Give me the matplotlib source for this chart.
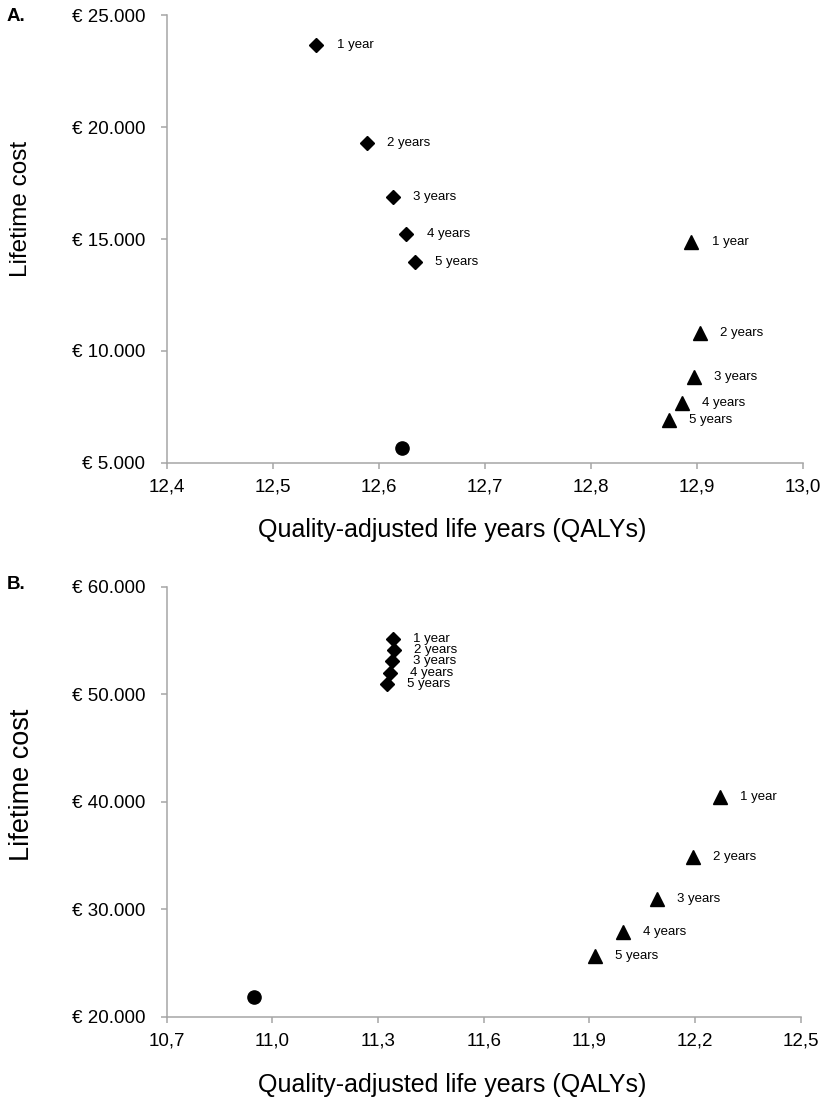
import matplotlib
matplotlib.use("Agg")
import matplotlib.pyplot as plt

plt.rcParams["font.family"] = ["Liberation Sans", "DejaVu Sans"]

# point labels (same for both strategies)
YEAR_LABELS = ["1 year", "2 years", "3 years", "4 years", "5 years"]

# panel A
A_DIAMOND_QALY = [12.541, 12.589, 12.613, 12.626, 12.634]
A_DIAMOND_COST = [23660, 19300, 16890, 15220, 13960]
A_TRIANGLE_QALY = [12.895, 12.903, 12.897, 12.886, 12.874]
A_TRIANGLE_COST = [14880, 10790, 8850, 7690, 6920]
A_CIRCLE_QALY = [12.622]
A_CIRCLE_COST = [5680]
A_XTICKS = [12.4, 12.5, 12.6, 12.7, 12.8, 12.9, 13.0]
A_XTICKLABELS = ["12,4", "12,5", "12,6", "12,7", "12,8", "12,9", "13,0"]
A_YTICKS = [5000, 10000, 15000, 20000, 25000]
A_YTICKLABELS = ["€ 5.000", "€ 10.000", "€ 15.000", "€ 20.000", "€ 25.000"]

# panel B
B_DIAMOND_QALY = [11.343, 11.346, 11.341, 11.334, 11.326]
B_DIAMOND_COST = [55130, 54110, 53090, 51940, 50920]
B_TRIANGLE_QALY = [12.270, 12.193, 12.093, 11.995, 11.915]
B_TRIANGLE_COST = [40470, 34880, 30920, 27910, 25650]
B_CIRCLE_QALY = [10.948]
B_CIRCLE_COST = [21830]
B_XTICKS = [10.7, 11.0, 11.3, 11.6, 11.9, 12.2, 12.5]
B_XTICKLABELS = ["10,7", "11,0", "11,3", "11,6", "11,9", "12,2", "12,5"]
B_YTICKS = [20000, 30000, 40000, 50000, 60000]
B_YTICKLABELS = ["€ 20.000", "€ 30.000", "€ 40.000", "€ 50.000", "€ 60.000"]

W, H = 829, 1108
AXIS_GREY = "#a6a6a6"


def px_box(left, top, right, bottom):
    return [left / W, 1 - bottom / H, (right - left) / W, (bottom - top) / H]


def draw_panel(ax, dq, dc, tq, tc, cq, cc, xticks, xlabels, yticks, ylabels):
    ax.plot(dq, dc, "D", color="black", ms=7.2, ls="none", clip_on=False)
    ax.plot(tq, tc, "^", color="black", ms=10, ls="none", clip_on=False)
    ax.plot(cq, cc, "o", color="black", ms=9.5, ls="none", clip_on=False)

    for q, c, lab in zip(dq + tq, dc + tc, YEAR_LABELS + YEAR_LABELS):
        ax.annotate(lab, (q, c), xytext=(14.5, 0), textcoords="offset points",
                    ha="left", va="center", fontsize=9.5)

    ax.set_xlim(xticks[0], xticks[-1])
    ax.set_ylim(yticks[0], yticks[-1])
    ax.set_xticks(xticks)
    ax.set_xticklabels(xlabels)
    ax.set_yticks(yticks)
    ax.set_yticklabels(ylabels)

    for side in ["top", "right"]:
        ax.spines[side].set_visible(False)
    for side in ["left", "bottom"]:
        ax.spines[side].set_color(AXIS_GREY)
        ax.spines[side].set_linewidth(1.1)
    ax.tick_params(axis="both", colors=AXIS_GREY, labelcolor="black",
                   direction="out", length=4.5, width=1.1, labelsize=13.5)
    ax.tick_params(axis="x", pad=7)
    ax.tick_params(axis="y", pad=11)


fig = plt.figure(figsize=(W / 100, H / 100), dpi=100)

ax_a = fig.add_axes(px_box(167, 15, 802.7, 463))
draw_panel(ax_a, A_DIAMOND_QALY, A_DIAMOND_COST, A_TRIANGLE_QALY, A_TRIANGLE_COST,
           A_CIRCLE_QALY, A_CIRCLE_COST, A_XTICKS, A_XTICKLABELS, A_YTICKS, A_YTICKLABELS)

ax_b = fig.add_axes(px_box(166.7, 586.7, 800.7, 1016.7))
draw_panel(ax_b, B_DIAMOND_QALY, B_DIAMOND_COST, B_TRIANGLE_QALY, B_TRIANGLE_COST,
           B_CIRCLE_QALY, B_CIRCLE_COST, B_XTICKS, B_XTICKLABELS, B_YTICKS, B_YTICKLABELS)

# axis titles and panel letters, placed in pixel terms
fig.text(452 / W, 1 - 530 / H, "Quality-adjusted life years (QALYs)",
         ha="center", va="center", fontsize=18)
fig.text(452 / W, 1 - 1085 / H, "Quality-adjusted life years (QALYs)",
         ha="center", va="center", fontsize=18)
fig.text(21 / W, 1 - 209 / H, "Lifetime cost", rotation=90,
         ha="center", va="center", fontsize=17.5)
fig.text(22 / W, 1 - 785 / H, "Lifetime cost", rotation=90,
         ha="center", va="center", fontsize=19.5)
fig.text(7 / W, 1 - 16.5 / H, "A.", ha="left", va="center",
         fontsize=13.5, fontweight="bold")
fig.text(7 / W, 1 - 584 / H, "B.", ha="left", va="center",
         fontsize=13.5, fontweight="bold")

fig.savefig("out.png", dpi=100)
plt.close(fig)
